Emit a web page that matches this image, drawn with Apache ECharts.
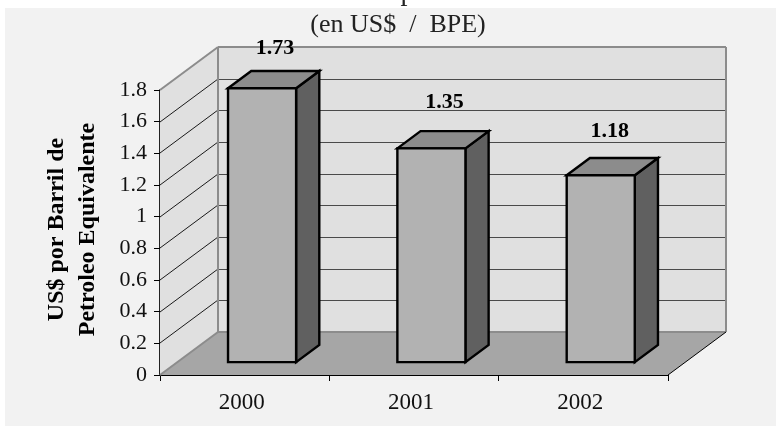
<!DOCTYPE html>
<html>
<head>
<meta charset="utf-8">
<style>html,body{margin:0;padding:0;background:#fff;}#chart{width:776px;height:427px;}</style>
<script src="https://cdn.jsdelivr.net/npm/echarts@6/dist/echarts.min.js"></script>
</head>
<body>
<div id="chart"></div>
<script>
// Unit cost per barrel of oil equivalent, one prism per year
const years = ['2000', '2001', '2002'];
const costs = [1.73, 1.35, 1.18];
const gridValues = [0.2, 0.4, 0.6, 0.8, 1, 1.2, 1.4, 1.6, 1.8];
const titleLines = ['Costo de Ventas en el período 2000 a 2002', '(en US$  /  BPE)'];
const axisTitle = 'US$ por Barril de\nPetroleo Equivalente';

// Projection of the depth axis, in pixels
const DEPTH_X = 58, DEPTH_Y = -43;
const FRONT = 0.3, BAR_DEPTH = 0.4, BAR_WIDTH = 0.402;
// Fine placement of the value labels above each prism
const labelDx = [13, 13, 9], labelDy = [-40, -46, -44];

const serif = '"Liberation Serif", serif';
const ymax = 1.8;

function poly(points, fill, stroke, lineWidth) {
  return {
    type: 'polygon',
    shape: { points },
    style: { fill: fill, stroke: stroke || 'none', lineWidth: lineWidth || 0, lineJoin: 'miter' }
  };
}
function seg(a, b, stroke, lineWidth) {
  return {
    type: 'line',
    shape: { x1: a[0], y1: a[1], x2: b[0], y2: b[1] },
    style: { stroke, lineWidth }
  };
}

// Side wall, back wall, floor and their ruled lines
function renderRoom(params, api) {
  const cs = params.coordSys;
  const l = cs.x, r = cs.x + cs.width;
  const y0 = api.coord([0, 0])[1], yT = api.coord([0, ymax])[1];
  const bl = l + DEPTH_X, br = r + DEPTH_X;
  const by0 = y0 + DEPTH_Y, byT = yT + DEPTH_Y;
  const kids = [
    poly([[l, y0], [bl, by0], [bl, byT], [l, yT]], '#e0e0e0'),
    poly([[bl, by0], [br, by0], [br, byT], [bl, byT]], '#e0e0e0'),
    poly([[l, y0], [r, y0], [br, by0], [bl, by0]], '#a6a6a6')
  ];
  gridValues.slice(0, -1).forEach(function (v) {
    const y = Math.round(api.coord([0, v])[1]);
    kids.push(seg([l, y], [bl, y + DEPTH_Y], '#1a1a1a', 1));
    kids.push(seg([bl, y + DEPTH_Y + 0.5], [br, y + DEPTH_Y + 0.5], '#4a4a4a', 1));
  });
  kids.push(seg([bl, byT], [br, byT], '#8c8c8c', 2));
  kids.push(seg([br, byT], [br, by0], '#8c8c8c', 2));
  kids.push(seg([bl, byT], [bl, by0], '#8c8c8c', 2));
  kids.push(seg([bl, by0], [br, by0], '#8c8c8c', 2));
  kids.push(seg([l, yT], [bl, byT], '#8c8c8c', 2));
  kids.push(seg([l, y0], [bl, by0], '#8c8c8c', 2));
  kids.push(seg([r, y0], [br, by0], '#000', 1));
  return { type: 'group', children: kids, silent: true };
}

// One prism: front, top and side faces plus its value label
function renderPrism(params, api) {
  const i = params.dataIndex;
  const v = api.value(1);
  const c = api.coord([i, v]);
  const base = api.coord([i, 0]);
  const w = api.size([1, 0])[0] * BAR_WIDTH;
  const ox = DEPTH_X * FRONT, oy = DEPTH_Y * FRONT;
  const dx = DEPTH_X * BAR_DEPTH, dy = DEPTH_Y * BAR_DEPTH;
  const x0 = c[0] + ox - w / 2, x1 = x0 + w;
  const yB = base[1] + oy, yTop = yB - (base[1] - c[1]);
  return {
    type: 'group',
    children: [
      poly([[x1, yTop], [x1 + dx, yTop + dy], [x1 + dx, yB + dy], [x1, yB]], '#606060', '#000', 2.4),
      poly([[x0, yTop], [x0 + dx, yTop + dy], [x1 + dx, yTop + dy], [x1, yTop]], '#8c8c8c', '#000', 2.4),
      poly([[x0, yTop], [x1, yTop], [x1, yB], [x0, yB]], '#b2b2b2', '#000', 2.4),
      {
        type: 'text',
        style: {
          x: (x0 + x1) / 2 + labelDx[i],
          y: yTop + labelDy[i],
          text: costs[i].toFixed(2),
          font: 'bold 22px ' + serif,
          fill: '#000',
          align: 'center',
          verticalAlign: 'middle'
        }
      }
    ]
  };
}

const chart = echarts.init(document.getElementById('chart'), null, { renderer: 'canvas' });
chart.setOption({
  animation: false,
  backgroundColor: '#fff',
  graphic: [{
    type: 'rect', z: -10,
    shape: { x: 5, y: 8, width: 771, height: 418 },
    style: { fill: '#f2f2f2' }
  }, {
    type: 'text', z: 10, x: 392, y: -7,
    style: {
      text: titleLines[0],
      font: '28px ' + serif,
      fill: '#222',
      align: 'center',
      verticalAlign: 'middle'
    }
  }, {
    type: 'text', z: 10, x: 398, y: 25,
    style: {
      text: titleLines[1],
      font: '26px ' + serif,
      fill: '#222',
      align: 'center',
      verticalAlign: 'middle'
    }
  }],
  grid: { left: 160, right: 108, top: 90, bottom: 52 },
  xAxis: {
    type: 'category',
    data: years,
    axisLine: { lineStyle: { color: '#000', width: 1 } },
    axisTick: { show: true, alignWithLabel: false, length: 6, lineStyle: { color: '#000' } },
    axisLabel: { color: '#111', fontFamily: serif, fontSize: 23, margin: 16, padding: [0, 6, 0, 0] },
    splitLine: { show: false }
  },
  yAxis: {
    type: 'value',
    min: 0, max: ymax, interval: 0.2,
    name: axisTitle,
    nameLocation: 'middle',
    nameRotate: 90,
    nameGap: 57,
    nameTextStyle: { color: '#000', fontFamily: serif, fontWeight: 'bold', fontSize: 24, lineHeight: 31, padding: [0, 0, 0, 6] },
    axisLine: { show: true, lineStyle: { color: '#222', width: 2 } },
    axisTick: { show: true, length: 6, lineStyle: { color: '#000' } },
    axisLabel: { color: '#111', fontFamily: serif, fontSize: 22, margin: 13, formatter: v => String(+v.toFixed(1)) },
    splitLine: { show: false }
  },
  series: [{
    type: 'custom',
    coordinateSystem: 'cartesian2d',
    renderItem: renderRoom,
    data: [[0, 0]],
    clip: false,
    silent: true,
    z: 1
  }, {
    type: 'custom',
    coordinateSystem: 'cartesian2d',
    renderItem: renderPrism,
    data: costs.map((v, i) => [i, v]),
    encode: { x: 0, y: 1 },
    clip: false,
    z: 3
  }]
});
</script>
</body>
</html>
